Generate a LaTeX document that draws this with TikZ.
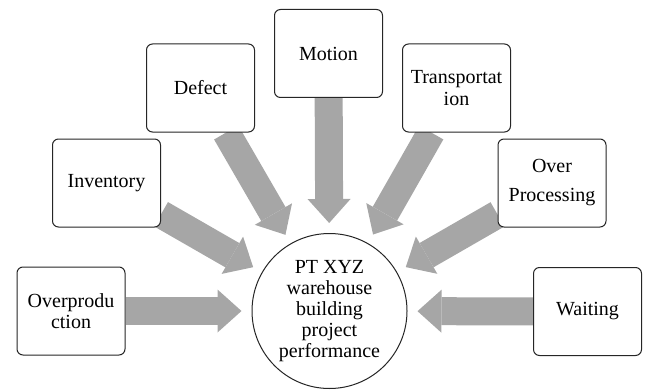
\documentclass[tikz,border=0pt]{standalone}
\usepackage{fontspec}
\setmainfont{Liberation Serif}
\usepackage{xcolor}
\usetikzlibrary{arrows.meta,positioning,calc,backgrounds}
\definecolor{arrowgray}{RGB}{166,166,166}

\begin{document}
\begin{tikzpicture}[x=1pt,y=1pt,
		waste/.style={draw=black!85, line width=1pt, rounded corners=6pt, fill=white, minimum width=108pt, minimum height=88pt, inner sep=2pt, align=center, font=\fontsize{20}{21}\selectfont},
		goal/.style={draw=black!85, line width=1pt, circle, fill=white, minimum size=155pt, inner sep=0pt, align=center, font=\fontsize{20}{21}\selectfont},
		flow/.style={arrowgray, line width=28pt, shorten >=10pt, -{Triangle[width=43pt,length=24pt,line width=0pt]}}]
		\useasboundingbox (0,0) rectangle (647,389);
		\node[goal] (perf) at (329.5,78) {PT XYZ\\warehouse\\building\\project\\performance};
		\node[waste] (overprod) at (71,78) {Overprodu\\ction};
		\node[waste] (inv) at (106.5,206) {Inventory};
		\node[waste] (defect) at (200.5,301) {Defect};
		\node[waste] (motion) at (328.5,335.5) {Motion};
		\node[waste] (transp) at (456.5,301) {Transportat\\[1pt]ion};
		\node[waste] (overproc) at (552,206) {Over\\[8pt]Processing};
		\node[waste] (waiting) at (587.5,77.5) {Waiting};
		\begin{scope}[on background layer]
			\foreach \w in {overprod,inv,defect,motion,transp,overproc,waiting}
				\draw[flow] (\w) -- (perf);
		\end{scope}
	\end{tikzpicture}
\end{document}
